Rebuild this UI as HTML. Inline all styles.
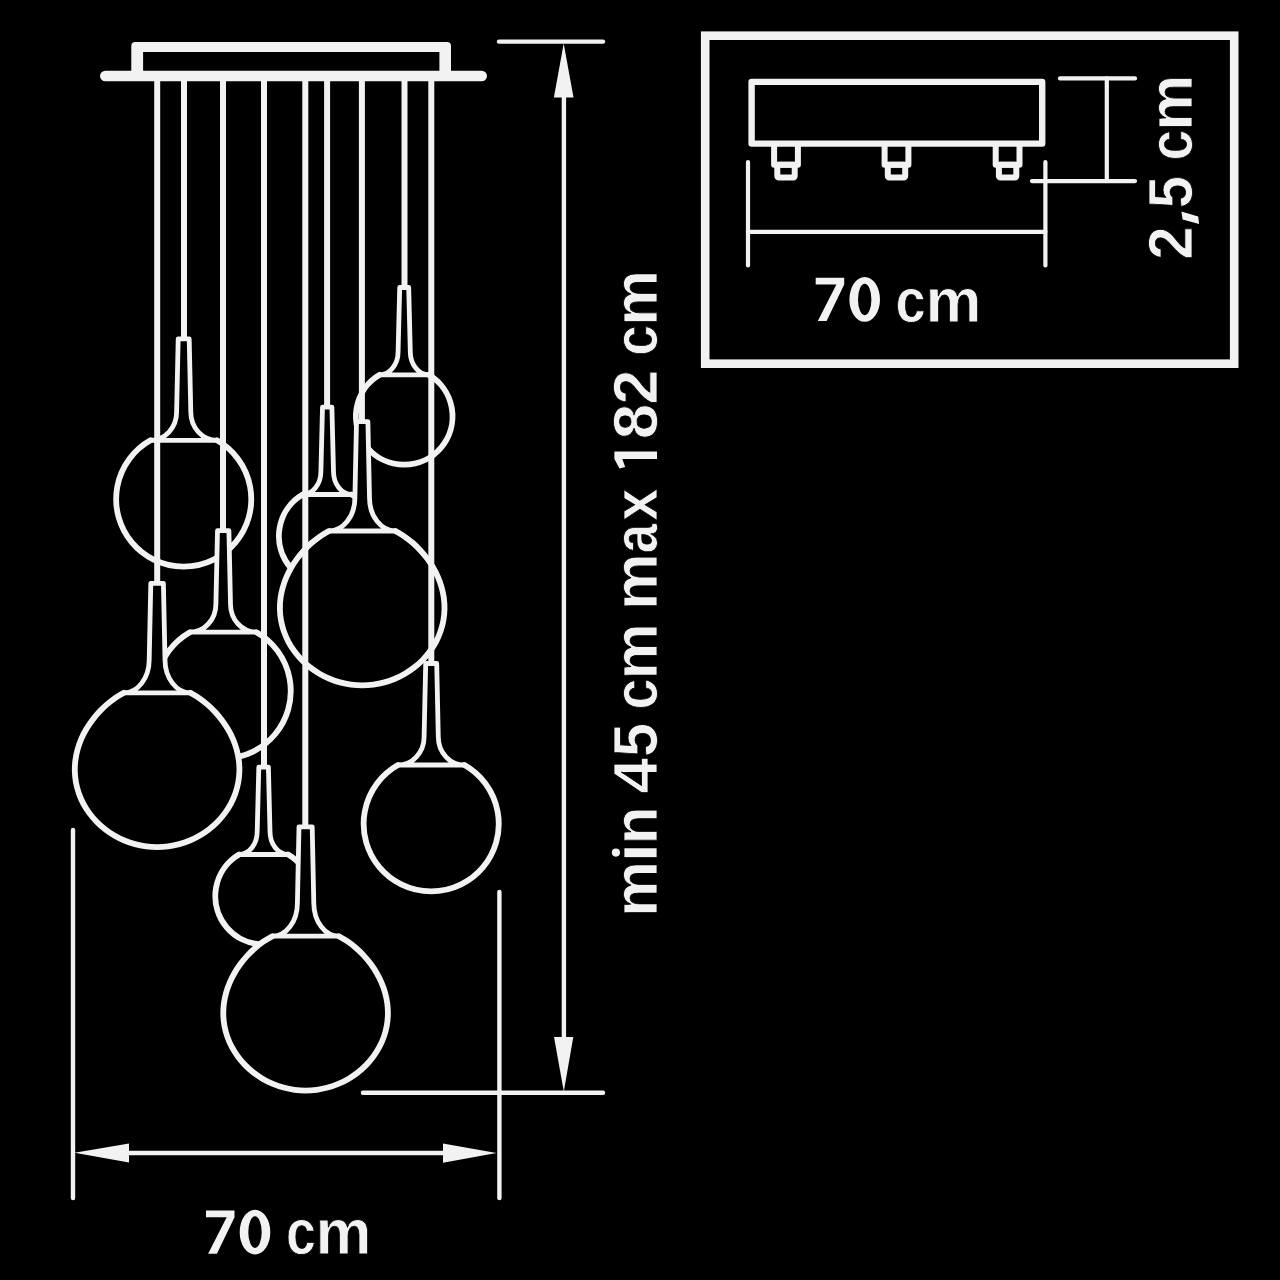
<!DOCTYPE html>
<html><head><meta charset="utf-8"><style>
html,body{margin:0;padding:0;background:#000;width:1280px;height:1280px;overflow:hidden}
svg{display:block}
</style></head><body>
<svg width="1280" height="1280" viewBox="0 0 1280 1280">
<rect width="1280" height="1280" fill="#000"/>
<g fill="none" stroke="#f2f2f2" stroke-width="4.8" stroke-linejoin="round">
<path d="M178.2 338.8 L189.2 338.8 L190.8 412.3 A26.15 28 0 0 0 216.95 440.3 A67.55 67.55 0 1 1 150.45 440.3 A26.15 28 0 0 0 176.6 412.3 L178.2 338.8 Z" fill="#000" stroke="none"/><path d="M216.95 440.3 A67.55 67.55 0 1 1 150.45 440.3" stroke-width="5.8" stroke-linecap="round"/><path d="M150.45 440.3 A26.15 28 0 0 0 176.6 412.3 L178.2 338.8 L189.2 338.8 L190.8 412.3 A26.15 28 0 0 0 216.95 440.3 H150.45"/>
<path d="M217.5 530.7 L228.9 530.7 L230.5 604.2 A25.95 28 0 0 0 256.45 632.2 A67.55 67.55 0 1 1 189.95 632.2 A25.95 28 0 0 0 215.9 604.2 L217.5 530.7 Z" fill="#000" stroke="none"/><path d="M256.45 632.2 A67.55 67.55 0 1 1 189.95 632.2" stroke-width="5.8" stroke-linecap="round"/><path d="M189.95 632.2 A25.95 28 0 0 0 215.9 604.2 L217.5 530.7 L228.9 530.7 L230.5 604.2 A25.95 28 0 0 0 256.45 632.2 H189.95"/>
<path d="M150.8 583.4 L163.4 583.4 L165 659.8 A25.33 33 0 0 0 190.33 692.8 C193.37 694.64 196.53 696.31 199.44 698.32 C202.35 700.33 205.14 702.53 207.79 704.85 C210.44 707.17 212.97 709.65 215.35 712.24 C217.74 714.84 220.01 717.56 222.12 720.41 C224.23 723.25 226.22 726.22 228.01 729.31 C229.81 732.4 231.47 735.62 232.89 738.93 C234.31 742.25 235.57 745.7 236.55 749.22 C237.54 752.73 238.31 756.37 238.79 760.03 C239.26 763.69 239.48 767.44 239.4 771.16 C239.31 774.87 238.94 778.64 238.28 782.32 C237.61 786 236.64 789.68 235.41 793.22 C234.18 796.76 232.65 800.25 230.89 803.57 C229.13 806.88 227.1 810.1 224.87 813.12 C222.65 816.15 220.18 819.03 217.56 821.71 C214.94 824.39 212.11 826.91 209.16 829.21 C206.21 831.5 203.08 833.62 199.86 835.5 C196.63 837.39 193.26 839.07 189.83 840.52 C186.39 841.96 182.83 843.19 179.24 844.17 C175.65 845.15 171.96 845.9 168.27 846.4 C164.58 846.9 160.82 847.15 157.1 847.15 C153.38 847.15 149.62 846.9 145.93 846.4 C142.24 845.9 138.55 845.15 134.96 844.17 C131.37 843.19 127.81 841.96 124.37 840.52 C120.94 839.07 117.57 837.39 114.34 835.5 C111.12 833.62 107.99 831.5 105.04 829.21 C102.09 826.91 99.26 824.39 96.64 821.71 C94.02 819.03 91.55 816.15 89.33 813.12 C87.1 810.1 85.07 806.88 83.31 803.57 C81.55 800.25 80.02 796.76 78.79 793.22 C77.56 789.68 76.59 786 75.92 782.32 C75.26 778.64 74.89 774.87 74.8 771.16 C74.72 767.44 74.94 763.69 75.41 760.03 C75.89 756.37 76.66 752.73 77.65 749.22 C78.63 745.7 79.89 742.25 81.31 738.93 C82.73 735.62 84.39 732.4 86.19 729.31 C87.98 726.22 89.97 723.25 92.08 720.41 C94.19 717.56 96.46 714.84 98.85 712.24 C101.23 709.65 103.76 707.17 106.41 704.85 C109.06 702.53 111.85 700.33 114.76 698.32 C117.67 696.31 120.83 694.64 123.87 692.8 A25.33 33 0 0 0 149.2 659.8 L150.8 583.4 Z" fill="#000" stroke="none"/><path d="M190.33 692.8 C193.37 694.64 196.53 696.31 199.44 698.32 C202.35 700.33 205.14 702.53 207.79 704.85 C210.44 707.17 212.97 709.65 215.35 712.24 C217.74 714.84 220.01 717.56 222.12 720.41 C224.23 723.25 226.22 726.22 228.01 729.31 C229.81 732.4 231.47 735.62 232.89 738.93 C234.31 742.25 235.57 745.7 236.55 749.22 C237.54 752.73 238.31 756.37 238.79 760.03 C239.26 763.69 239.48 767.44 239.4 771.16 C239.31 774.87 238.94 778.64 238.28 782.32 C237.61 786 236.64 789.68 235.41 793.22 C234.18 796.76 232.65 800.25 230.89 803.57 C229.13 806.88 227.1 810.1 224.87 813.12 C222.65 816.15 220.18 819.03 217.56 821.71 C214.94 824.39 212.11 826.91 209.16 829.21 C206.21 831.5 203.08 833.62 199.86 835.5 C196.63 837.39 193.26 839.07 189.83 840.52 C186.39 841.96 182.83 843.19 179.24 844.17 C175.65 845.15 171.96 845.9 168.27 846.4 C164.58 846.9 160.82 847.15 157.1 847.15 C153.38 847.15 149.62 846.9 145.93 846.4 C142.24 845.9 138.55 845.15 134.96 844.17 C131.37 843.19 127.81 841.96 124.37 840.52 C120.94 839.07 117.57 837.39 114.34 835.5 C111.12 833.62 107.99 831.5 105.04 829.21 C102.09 826.91 99.26 824.39 96.64 821.71 C94.02 819.03 91.55 816.15 89.33 813.12 C87.1 810.1 85.07 806.88 83.31 803.57 C81.55 800.25 80.02 796.76 78.79 793.22 C77.56 789.68 76.59 786 75.92 782.32 C75.26 778.64 74.89 774.87 74.8 771.16 C74.72 767.44 74.94 763.69 75.41 760.03 C75.89 756.37 76.66 752.73 77.65 749.22 C78.63 745.7 79.89 742.25 81.31 738.93 C82.73 735.62 84.39 732.4 86.19 729.31 C87.98 726.22 89.97 723.25 92.08 720.41 C94.19 717.56 96.46 714.84 98.85 712.24 C101.23 709.65 103.76 707.17 106.41 704.85 C109.06 702.53 111.85 700.33 114.76 698.32 C117.67 696.31 120.83 694.64 123.87 692.8" stroke-width="5.8" stroke-linecap="round"/><path d="M123.87 692.8 A25.33 33 0 0 0 149.2 659.8 L150.8 583.4 L163.4 583.4 L165 659.8 A25.33 33 0 0 0 190.33 692.8 H123.87"/>
<path d="M322.5 407.2 L331.9 407.2 L333.5 471.5 A18.24 23 0 0 0 351.74 494.5 A48.3 48.3 0 1 1 302.66 494.5 A18.24 23 0 0 0 320.9 471.5 L322.5 407.2 Z" fill="#000" stroke="none"/><path d="M351.74 494.5 A48.3 48.3 0 1 1 302.66 494.5" stroke-width="5.8" stroke-linecap="round"/><path d="M302.66 494.5 A18.24 23 0 0 0 320.9 471.5 L322.5 407.2 L331.9 407.2 L333.5 471.5 A18.24 23 0 0 0 351.74 494.5 H302.66"/>
<path d="M399.7 287.5 L408.7 287.5 L410.3 351.8 A18.44 23 0 0 0 428.74 374.8 A48.3 48.3 0 1 1 379.66 374.8 A18.44 23 0 0 0 398.1 351.8 L399.7 287.5 Z" fill="#000" stroke="none"/><path d="M428.74 374.8 A48.3 48.3 0 1 1 379.66 374.8" stroke-width="5.8" stroke-linecap="round"/><path d="M379.66 374.8 A18.44 23 0 0 0 398.1 351.8 L399.7 287.5 L408.7 287.5 L410.3 351.8 A18.44 23 0 0 0 428.74 374.8 H379.66"/>
<path d="M356.5 421.6 L367.9 421.6 L369.5 498 A25.93 33 0 0 0 395.43 531 C398.47 532.84 401.63 534.51 404.54 536.52 C407.45 538.53 410.24 540.73 412.89 543.05 C415.54 545.37 418.07 547.85 420.45 550.44 C422.84 553.04 425.11 555.76 427.22 558.61 C429.33 561.45 431.32 564.42 433.11 567.51 C434.91 570.6 436.57 573.82 437.99 577.13 C439.41 580.45 440.67 583.9 441.65 587.42 C442.64 590.93 443.41 594.57 443.89 598.23 C444.36 601.89 444.58 605.64 444.5 609.36 C444.41 613.07 444.04 616.84 443.38 620.52 C442.71 624.2 441.74 627.88 440.51 631.42 C439.28 634.96 437.75 638.45 435.99 641.77 C434.23 645.08 432.2 648.3 429.97 651.32 C427.75 654.35 425.28 657.23 422.66 659.91 C420.04 662.59 417.21 665.11 414.26 667.41 C411.31 669.7 408.18 671.82 404.96 673.7 C401.73 675.59 398.36 677.27 394.93 678.72 C391.49 680.16 387.93 681.39 384.34 682.37 C380.75 683.35 377.06 684.1 373.37 684.6 C369.68 685.1 365.92 685.35 362.2 685.35 C358.48 685.35 354.72 685.1 351.03 684.6 C347.34 684.1 343.65 683.35 340.06 682.37 C336.47 681.39 332.91 680.16 329.47 678.72 C326.04 677.27 322.67 675.59 319.44 673.7 C316.22 671.82 313.09 669.7 310.14 667.41 C307.19 665.11 304.36 662.59 301.74 659.91 C299.12 657.23 296.65 654.35 294.43 651.32 C292.2 648.3 290.17 645.08 288.41 641.77 C286.65 638.45 285.12 634.96 283.89 631.42 C282.66 627.88 281.69 624.2 281.02 620.52 C280.36 616.84 279.99 613.07 279.9 609.36 C279.82 605.64 280.04 601.89 280.51 598.23 C280.99 594.57 281.76 590.93 282.75 587.42 C283.73 583.9 284.99 580.45 286.41 577.13 C287.83 573.82 289.49 570.6 291.29 567.51 C293.08 564.42 295.07 561.45 297.18 558.61 C299.29 555.76 301.56 553.04 303.95 550.44 C306.33 547.85 308.86 545.37 311.51 543.05 C314.16 540.73 316.95 538.53 319.86 536.52 C322.77 534.51 325.93 532.84 328.97 531 A25.93 33 0 0 0 354.9 498 L356.5 421.6 Z" fill="#000" stroke="none"/><path d="M395.43 531 C398.47 532.84 401.63 534.51 404.54 536.52 C407.45 538.53 410.24 540.73 412.89 543.05 C415.54 545.37 418.07 547.85 420.45 550.44 C422.84 553.04 425.11 555.76 427.22 558.61 C429.33 561.45 431.32 564.42 433.11 567.51 C434.91 570.6 436.57 573.82 437.99 577.13 C439.41 580.45 440.67 583.9 441.65 587.42 C442.64 590.93 443.41 594.57 443.89 598.23 C444.36 601.89 444.58 605.64 444.5 609.36 C444.41 613.07 444.04 616.84 443.38 620.52 C442.71 624.2 441.74 627.88 440.51 631.42 C439.28 634.96 437.75 638.45 435.99 641.77 C434.23 645.08 432.2 648.3 429.97 651.32 C427.75 654.35 425.28 657.23 422.66 659.91 C420.04 662.59 417.21 665.11 414.26 667.41 C411.31 669.7 408.18 671.82 404.96 673.7 C401.73 675.59 398.36 677.27 394.93 678.72 C391.49 680.16 387.93 681.39 384.34 682.37 C380.75 683.35 377.06 684.1 373.37 684.6 C369.68 685.1 365.92 685.35 362.2 685.35 C358.48 685.35 354.72 685.1 351.03 684.6 C347.34 684.1 343.65 683.35 340.06 682.37 C336.47 681.39 332.91 680.16 329.47 678.72 C326.04 677.27 322.67 675.59 319.44 673.7 C316.22 671.82 313.09 669.7 310.14 667.41 C307.19 665.11 304.36 662.59 301.74 659.91 C299.12 657.23 296.65 654.35 294.43 651.32 C292.2 648.3 290.17 645.08 288.41 641.77 C286.65 638.45 285.12 634.96 283.89 631.42 C282.66 627.88 281.69 624.2 281.02 620.52 C280.36 616.84 279.99 613.07 279.9 609.36 C279.82 605.64 280.04 601.89 280.51 598.23 C280.99 594.57 281.76 590.93 282.75 587.42 C283.73 583.9 284.99 580.45 286.41 577.13 C287.83 573.82 289.49 570.6 291.29 567.51 C293.08 564.42 295.07 561.45 297.18 558.61 C299.29 555.76 301.56 553.04 303.95 550.44 C306.33 547.85 308.86 545.37 311.51 543.05 C314.16 540.73 316.95 538.53 319.86 536.52 C322.77 534.51 325.93 532.84 328.97 531" stroke-width="5.8" stroke-linecap="round"/><path d="M328.97 531 A25.93 33 0 0 0 354.9 498 L356.5 421.6 L367.9 421.6 L369.5 498 A25.93 33 0 0 0 395.43 531 H328.97"/>
<path d="M425.7 663.5 L436.7 663.5 L438.3 737 A26.15 28 0 0 0 464.45 765 A67.55 67.55 0 1 1 397.95 765 A26.15 28 0 0 0 424.1 737 L425.7 663.5 Z" fill="#000" stroke="none"/><path d="M464.45 765 A67.55 67.55 0 1 1 397.95 765" stroke-width="5.8" stroke-linecap="round"/><path d="M397.95 765 A26.15 28 0 0 0 424.1 737 L425.7 663.5 L436.7 663.5 L438.3 737 A26.15 28 0 0 0 464.45 765 H397.95"/>
<path d="M258.8 767.2 L268.4 767.2 L270 831.5 A18.14 23 0 0 0 288.14 854.5 A48.3 48.3 0 1 1 239.06 854.5 A18.14 23 0 0 0 257.2 831.5 L258.8 767.2 Z" fill="#000" stroke="none"/><path d="M288.14 854.5 A48.3 48.3 0 1 1 239.06 854.5" stroke-width="5.8" stroke-linecap="round"/><path d="M239.06 854.5 A18.14 23 0 0 0 257.2 831.5 L258.8 767.2 L268.4 767.2 L270 831.5 A18.14 23 0 0 0 288.14 854.5 H239.06"/>
<path d="M299 826.8 L312.2 826.8 L313.8 903.2 A25.03 33 0 0 0 338.83 936.2 C341.87 938.04 345.03 939.71 347.94 941.72 C350.85 943.73 353.64 945.93 356.29 948.25 C358.94 950.57 361.47 953.05 363.85 955.64 C366.24 958.24 368.51 960.96 370.62 963.81 C372.73 966.65 374.72 969.62 376.51 972.71 C378.31 975.8 379.97 979.02 381.39 982.33 C382.81 985.65 384.07 989.1 385.05 992.62 C386.04 996.13 386.81 999.77 387.29 1003.43 C387.76 1007.09 387.98 1010.84 387.9 1014.56 C387.81 1018.27 387.44 1022.04 386.78 1025.72 C386.11 1029.4 385.14 1033.08 383.91 1036.62 C382.68 1040.16 381.15 1043.65 379.39 1046.97 C377.63 1050.28 375.6 1053.5 373.37 1056.52 C371.15 1059.55 368.68 1062.43 366.06 1065.11 C363.44 1067.79 360.61 1070.31 357.66 1072.61 C354.71 1074.9 351.58 1077.02 348.36 1078.9 C345.13 1080.79 341.76 1082.47 338.33 1083.92 C334.89 1085.36 331.33 1086.59 327.74 1087.57 C324.15 1088.55 320.46 1089.3 316.77 1089.8 C313.08 1090.3 309.32 1090.55 305.6 1090.55 C301.88 1090.55 298.12 1090.3 294.43 1089.8 C290.74 1089.3 287.05 1088.55 283.46 1087.57 C279.87 1086.59 276.31 1085.36 272.87 1083.92 C269.44 1082.47 266.07 1080.79 262.84 1078.9 C259.62 1077.02 256.49 1074.9 253.54 1072.61 C250.59 1070.31 247.76 1067.79 245.14 1065.11 C242.52 1062.43 240.05 1059.55 237.83 1056.52 C235.6 1053.5 233.57 1050.28 231.81 1046.97 C230.05 1043.65 228.52 1040.16 227.29 1036.62 C226.06 1033.08 225.09 1029.4 224.42 1025.72 C223.76 1022.04 223.39 1018.27 223.3 1014.56 C223.22 1010.84 223.44 1007.09 223.91 1003.43 C224.39 999.77 225.16 996.13 226.15 992.62 C227.13 989.1 228.39 985.65 229.81 982.33 C231.23 979.02 232.89 975.8 234.69 972.71 C236.48 969.62 238.47 966.65 240.58 963.81 C242.69 960.96 244.96 958.24 247.35 955.64 C249.73 953.05 252.26 950.57 254.91 948.25 C257.56 945.93 260.35 943.73 263.26 941.72 C266.17 939.71 269.33 938.04 272.37 936.2 A25.03 33 0 0 0 297.4 903.2 L299 826.8 Z" fill="#000" stroke="none"/><path d="M338.83 936.2 C341.87 938.04 345.03 939.71 347.94 941.72 C350.85 943.73 353.64 945.93 356.29 948.25 C358.94 950.57 361.47 953.05 363.85 955.64 C366.24 958.24 368.51 960.96 370.62 963.81 C372.73 966.65 374.72 969.62 376.51 972.71 C378.31 975.8 379.97 979.02 381.39 982.33 C382.81 985.65 384.07 989.1 385.05 992.62 C386.04 996.13 386.81 999.77 387.29 1003.43 C387.76 1007.09 387.98 1010.84 387.9 1014.56 C387.81 1018.27 387.44 1022.04 386.78 1025.72 C386.11 1029.4 385.14 1033.08 383.91 1036.62 C382.68 1040.16 381.15 1043.65 379.39 1046.97 C377.63 1050.28 375.6 1053.5 373.37 1056.52 C371.15 1059.55 368.68 1062.43 366.06 1065.11 C363.44 1067.79 360.61 1070.31 357.66 1072.61 C354.71 1074.9 351.58 1077.02 348.36 1078.9 C345.13 1080.79 341.76 1082.47 338.33 1083.92 C334.89 1085.36 331.33 1086.59 327.74 1087.57 C324.15 1088.55 320.46 1089.3 316.77 1089.8 C313.08 1090.3 309.32 1090.55 305.6 1090.55 C301.88 1090.55 298.12 1090.3 294.43 1089.8 C290.74 1089.3 287.05 1088.55 283.46 1087.57 C279.87 1086.59 276.31 1085.36 272.87 1083.92 C269.44 1082.47 266.07 1080.79 262.84 1078.9 C259.62 1077.02 256.49 1074.9 253.54 1072.61 C250.59 1070.31 247.76 1067.79 245.14 1065.11 C242.52 1062.43 240.05 1059.55 237.83 1056.52 C235.6 1053.5 233.57 1050.28 231.81 1046.97 C230.05 1043.65 228.52 1040.16 227.29 1036.62 C226.06 1033.08 225.09 1029.4 224.42 1025.72 C223.76 1022.04 223.39 1018.27 223.3 1014.56 C223.22 1010.84 223.44 1007.09 223.91 1003.43 C224.39 999.77 225.16 996.13 226.15 992.62 C227.13 989.1 228.39 985.65 229.81 982.33 C231.23 979.02 232.89 975.8 234.69 972.71 C236.48 969.62 238.47 966.65 240.58 963.81 C242.69 960.96 244.96 958.24 247.35 955.64 C249.73 953.05 252.26 950.57 254.91 948.25 C257.56 945.93 260.35 943.73 263.26 941.72 C266.17 939.71 269.33 938.04 272.37 936.2" stroke-width="5.8" stroke-linecap="round"/><path d="M272.37 936.2 A25.03 33 0 0 0 297.4 903.2 L299 826.8 L312.2 826.8 L313.8 903.2 A25.03 33 0 0 0 338.83 936.2 H272.37"/>
</g>
<g stroke="#f2f2f2" stroke-width="6" fill="none">
<path d="M184 78V337.4"/>
<path d="M223 78V529.3"/>
<path d="M157.2 78V582"/>
<path d="M327.1 78V405.8"/>
<path d="M404.5 78V286.1"/>
<path d="M361.9 78V420.2"/>
<path d="M431.3 78V662.1"/>
<path d="M264 78V765.8"/>
<path d="M305.3 78V825.4"/>
</g>
<path d="M131.3 76V45.9Q131.3 41.9 135.3 41.9H447Q451 41.9 451 45.9V76H439.4V51.9H143.1V76Z" fill="#f2f2f2"/>
<path d="M105.3 76H481.7" stroke="#f2f2f2" stroke-width="10.6" stroke-linecap="round"/>
<g stroke="#f2f2f2" stroke-width="4.4" stroke-linecap="round" fill="none">
<path d="M499 41.6H603"/>
<path d="M363 1092.8H603"/>
<path d="M563.9 95V1040"/>
<path d="M73 830V1198"/>
<path d="M499.4 892V1198"/>
<path d="M127 1153H445"/>
</g>
<g fill="#f2f2f2">
<path d="M563.7 43.5L573.5 97.5H553.9Z"/>
<path d="M563.8 1091.5L573.3 1037H554Z"/>
<path d="M74.5 1152.8L129 1143.6V1162.6Z"/>
<path d="M496.5 1153L443 1143.6V1162.8Z"/>
</g>
<rect x="705.2" y="35.7" width="529" height="328" fill="none" stroke="#f2f2f2" stroke-width="8.6"/>
<rect x="751.6" y="81.9" width="290.6" height="61.7" fill="none" stroke="#f2f2f2" stroke-width="6.4" stroke-linejoin="round"/>
<path d="M774.1 146V164.7H797.9V146" fill="none" stroke="#f2f2f2" stroke-width="6" stroke-linejoin="round"/>
<rect x="777.3" y="164.7" width="17.4" height="12.9" rx="1.5" fill="none" stroke="#f2f2f2" stroke-width="6"/>
<path d="M884.6 146V164.7H908.4V146" fill="none" stroke="#f2f2f2" stroke-width="6" stroke-linejoin="round"/>
<rect x="887.8" y="164.7" width="17.4" height="12.9" rx="1.5" fill="none" stroke="#f2f2f2" stroke-width="6"/>
<path d="M995.7 146V164.7H1019.5V146" fill="none" stroke="#f2f2f2" stroke-width="6" stroke-linejoin="round"/>
<rect x="998.9" y="164.7" width="17.4" height="12.9" rx="1.5" fill="none" stroke="#f2f2f2" stroke-width="6"/>
<g stroke="#f2f2f2" stroke-width="4.2" stroke-linecap="round" fill="none">
<path d="M748 162V265.5"/>
<path d="M1045.4 162V265.5"/>
<path d="M748 231.8H1045.4"/>
<path d="M1060 78.4H1135"/>
<path d="M1032 181.1H1135"/>
<path d="M1106.8 78.4V181.1"/>
</g>
<g fill="#f2f2f2" stroke="#000" stroke-width="0.8" font-family="Liberation Sans, sans-serif" font-weight="bold">
<text transform="translate(285.9 1254.2) scale(0.8379 1)" font-size="64.1">c</text>
<text transform="translate(315.55 1254.2) scale(0.9817 1)" font-size="64.1">m</text>
<text transform="translate(895.58 321.5) scale(0.8553 1)" font-size="63.52">c</text>
<text transform="translate(925.55 321.5) scale(0.9906 1)" font-size="63.52">m</text>
<path stroke="none" d="M206 1210.5H234.5V1217.2L216.9 1253.8H208.1L226.7 1217.2H206Z"/><path stroke="none" fill-rule="evenodd" d="M239.7 1232.15a15.3 22.35 0 1 0 30.6 0a15.3 22.35 0 1 0 -30.6 0Z M248.3 1232.15a6.7 15.8 0 1 0 13.4 0a6.7 15.8 0 1 0 -13.4 0Z"/>
<path stroke="none" d="M815.7 277.8H844.2V284.5L826.6 321.1H817.8L836.4 284.5H815.7Z"/><path stroke="none" fill-rule="evenodd" d="M849.4 299.45a15.3 22.35 0 1 0 30.6 0a15.3 22.35 0 1 0 -30.6 0Z M858 299.45a6.7 15.8 0 1 0 13.4 0a6.7 15.8 0 1 0 -13.4 0Z"/>
<text transform="translate(657.3 916.95) rotate(-90) scale(0.9952 1)" font-size="63.23">m</text>
<text transform="translate(657.3 862.44) rotate(-90) scale(1.1181 1)" font-size="63.23">i</text>
<text transform="translate(657.3 844.52) rotate(-90) scale(0.9891 1)" font-size="63.23">n</text>
<text transform="translate(657.3 793.57) rotate(-90) scale(1.0128 1)" font-size="63.23">4</text>
<text transform="translate(657.3 756.88) rotate(-90) scale(0.9663 1)" font-size="63.23">5</text>
<text transform="translate(657.3 709.47) rotate(-90) scale(0.8787 1)" font-size="63.23">c</text>
<text transform="translate(657.3 679.58) rotate(-90) scale(1.0035 1)" font-size="63.23">m</text>
<text transform="translate(657.3 610.23) rotate(-90) scale(1.0160 1)" font-size="63.23">m</text>
<text transform="translate(657.3 553.2) rotate(-90) scale(0.8394 1)" font-size="63.23">a</text>
<text transform="translate(657.3 520.8) rotate(-90) scale(0.9163 1)" font-size="63.23">x</text>
<text transform="translate(657.3 439.32) rotate(-90) scale(1.0076 1)" font-size="63.23">8</text>
<text transform="translate(657.3 404.47) rotate(-90) scale(0.9921 1)" font-size="63.23">2</text>
<text transform="translate(657.3 355.66) rotate(-90) scale(0.8754 1)" font-size="63.23">c</text>
<text transform="translate(657.3 325.78) rotate(-90) scale(0.9900 1)" font-size="63.23">m</text>
<text transform="translate(1191.8 259.68) rotate(-90) scale(0.9429 1)" font-size="63.66">2</text>
<text transform="translate(1191.8 208.19) rotate(-90) scale(0.9123 1)" font-size="63.66">5</text>
<text transform="translate(1191.8 160.46) rotate(-90) scale(0.8694 1)" font-size="63.66">c</text>
<text transform="translate(1191.8 130.81) rotate(-90) scale(0.9915 1)" font-size="63.66">m</text>
<path stroke="none" d="M614.4 451.5H657V459H622.3L625.2 467L619.5 468.4L614.4 459Z"/>
<path stroke="none" d="M1181.4 211.4L1198.2 216.4L1199.1 224L1182.6 219.6Z"/>
</g>
<rect x="609.5" y="846.5" width="9" height="12" fill="#000"/><circle cx="615.9" cy="852.6" r="4.1" fill="#f2f2f2"/>
</svg>
</body></html>
